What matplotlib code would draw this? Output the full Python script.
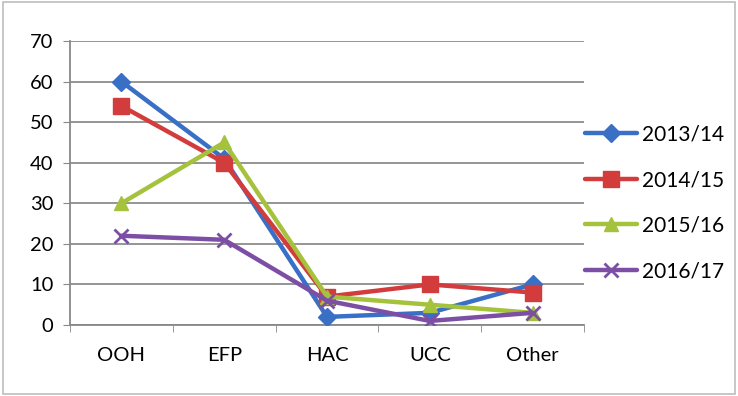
import matplotlib
matplotlib.use('Agg')
import matplotlib.pyplot as plt
import numpy as np

plt.rcParams['font.family'] = ['Lato', 'DejaVu Sans']

categories = ['OOH', 'EFP', 'HAC', 'UCC', 'Other']
years = ['2013/14', '2014/15', '2015/16', '2016/17']
s2013 = [60, 41, 2, 3, 10]
s2014 = [54, 40, 7, 10, 8]
s2015 = [30, 45, 7, 5, 3]
s2016 = [22, 21, 6, 1, 3]

colors = ['#3a6fc6', '#d23c3c', '#a4c23c', '#7c4fa5']
markers = ['D', 's', '^', 'x']
msizes = [9, 11, 10, 10]

fig = plt.figure(figsize=(7.38, 3.96), dpi=100)
ax = fig.add_axes([70 / 738, 1 - 325 / 396, 514 / 738, 284 / 396])

x = np.arange(len(categories))
for i, vals in enumerate([s2013, s2014, s2015, s2016]):
    ax.plot(x, vals, color=colors[i], lw=3.2, marker=markers[i],
            ms=msizes[i], mew=2 if markers[i] == 'x' else 1,
            mec=colors[i], label=years[i], solid_capstyle='round', zorder=3)

ax.set_xlim(-0.5, len(categories) - 0.5)
ax.set_ylim(0, 70)
ax.set_yticks(range(0, 71, 10))
ax.set_xticks(x)
ax.set_xticklabels(categories)
ax.set_xticks(np.arange(-0.5, len(categories)), minor=True)
ax.tick_params(axis='x', which='major', length=0, pad=16, labelsize=14.5)
ax.tick_params(axis='x', which='minor', length=5, color='#888888')
ax.tick_params(axis='y', length=5, color='#888888', labelsize=14.5, pad=7)
ax.yaxis.grid(True, color='#8c8c8c', lw=1.3)
ax.set_axisbelow(True)
for side in ['top', 'right']:
    ax.spines[side].set_visible(False)
for side in ['left', 'bottom']:
    ax.spines[side].set_color('#888888')
    ax.spines[side].set_linewidth(1.3)

ax.legend(loc='center left', bbox_to_anchor=(0.985, 0.43), frameon=False,
          fontsize=15, handlelength=2.5, labelspacing=1.22,
          handletextpad=0.25, borderaxespad=0)

fig.patches.append(plt.Rectangle((0.004, 0.006), 0.992, 0.988,
                                 transform=fig.transFigure, fill=False,
                                 ec='#bdbdbd', lw=1.2))

plt.savefig('out.png', dpi=100)
